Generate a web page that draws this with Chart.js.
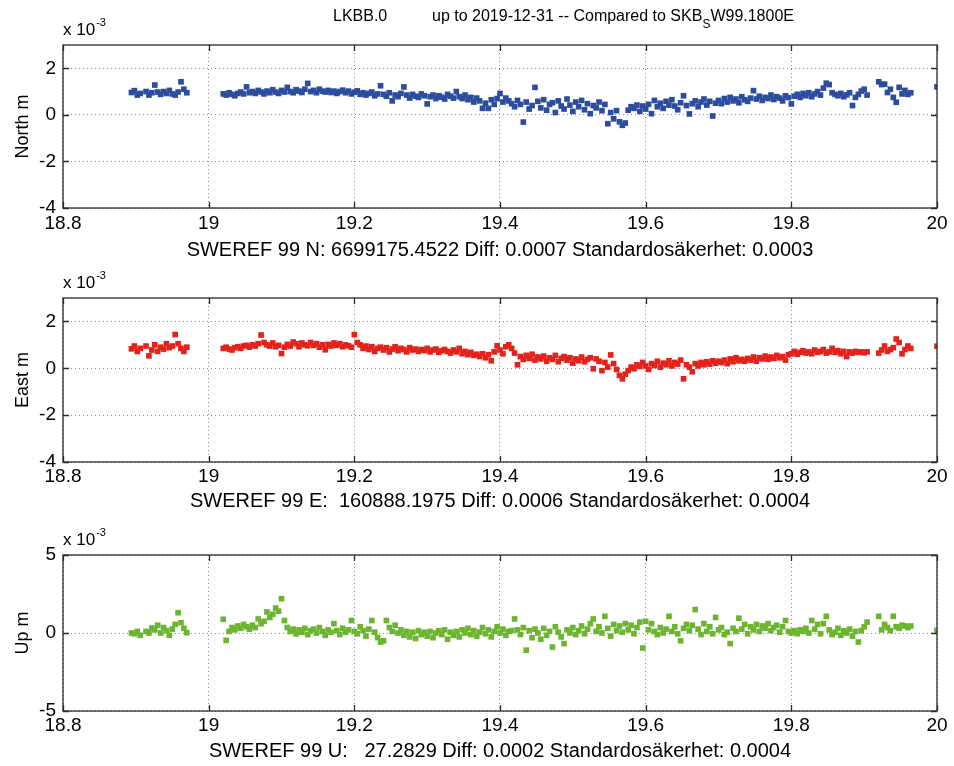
<!DOCTYPE html>
<html>
<head>
<meta charset="utf-8">
<script src="https://cdn.jsdelivr.net/npm/chart.js@4.4.1/dist/chart.umd.min.js"></script>
<style>
  html, body { margin: 0; padding: 0; background: #fff; }
  #wrap { position: relative; width: 954px; height: 766px; overflow: hidden; }
  canvas { position: absolute; left: 0; }
</style>
</head>
<body>
<div id="wrap">
  <canvas id="north" width="954" height="270" style="top:0px"></canvas>
  <canvas id="east" width="954" height="250" style="top:270px"></canvas>
  <canvas id="up" width="954" height="246" style="top:520px"></canvas>
</div>
<script>
// observation epochs (decimal years after 2000), shared by all three components
const epochs = [
  18.894,18.898,18.902,18.906,
  18.914,18.918,18.922,18.926,18.930,18.934,18.938,18.942,18.946,18.950,18.954,18.958,18.962,18.966,18.970,
  19.020,19.024,19.028,19.032,19.036,19.040,19.044,19.048,19.052,19.056,
  19.060,19.064,19.068,19.072,19.076,19.080,19.084,19.088,19.092,19.096,
  19.100,19.104,19.108,19.112,19.116,19.120,19.124,19.128,19.132,19.136,
  19.140,19.144,19.148,19.152,19.156,19.160,19.164,19.168,19.172,19.176,
  19.180,19.184,19.188,19.192,19.196,19.200,19.204,19.208,19.212,19.216,
  19.220,19.224,19.228,19.232,19.236,19.240,19.244,19.248,19.252,19.256,
  19.260,19.264,19.268,19.272,19.276,19.280,19.284,19.288,19.292,19.296,
  19.300,19.304,19.308,19.312,19.316,19.320,19.324,19.328,19.332,19.336,
  19.340,19.344,19.348,19.352,19.356,19.360,19.364,19.368,19.372,19.376,
  19.380,19.384,19.388,19.392,19.396,19.400,19.404,19.408,19.412,19.416,
  19.420,19.424,19.428,19.432,19.436,19.440,19.444,19.448,19.452,19.456,
  19.460,19.464,19.468,19.472,19.476,19.480,19.484,19.488,19.492,19.496,
  19.500,19.504,19.508,19.512,19.516,19.520,19.524,19.528,19.532,19.536,
  19.540,19.544,19.548,19.552,19.556,19.560,19.564,19.568,19.572,19.576,
  19.580,19.584,19.588,19.592,19.596,19.600,19.604,19.608,19.612,19.616,
  19.620,19.624,19.628,19.632,19.636,19.640,19.644,19.648,19.652,19.656,
  19.660,19.664,19.668,19.672,19.676,19.680,19.684,19.688,19.692,19.696,
  19.700,19.704,19.708,19.712,19.716,19.720,19.724,19.728,19.732,19.736,
  19.740,19.744,19.748,19.752,19.756,19.760,19.764,19.768,19.772,19.776,
  19.780,19.784,19.788,19.792,19.796,19.800,19.804,19.808,19.812,19.816,
  19.820,19.824,19.828,19.832,19.836,19.840,19.844,19.848,19.852,19.856,
  19.860,19.864,19.868,19.872,19.876,19.880,19.884,19.888,19.892,19.896,
  19.900,19.904,
  19.920,19.924,19.928,19.932,19.936,19.940,19.944,19.948,19.952,19.956,19.960,19.964,
  20.000
];

// deviations in units of 1e-3 m
const north = [
  0.96,1.04,0.85,0.92,
  1.00,0.85,0.95,1.28,0.98,0.88,1.00,0.92,1.05,0.90,0.85,0.98,1.42,1.10,0.95,
  0.90,0.85,0.95,0.88,0.82,0.92,0.98,0.90,1.20,0.95,
  1.00,0.92,1.05,0.98,0.90,1.02,0.95,1.08,0.98,0.92,
  1.05,0.98,1.18,1.00,0.95,1.08,1.02,0.96,1.10,1.35,
  1.00,1.05,0.95,1.10,1.02,0.98,1.05,0.96,1.02,0.92,
  1.00,1.06,0.95,1.02,0.90,0.97,1.03,0.88,0.95,0.85,
  0.92,0.98,0.82,0.90,1.25,0.88,0.80,0.95,0.60,0.85,
  0.78,0.92,1.20,0.85,0.72,0.88,0.80,0.75,0.90,0.82,
  0.47,0.78,0.85,0.70,0.82,0.76,0.68,0.88,0.80,0.72,
  1.00,0.78,0.70,0.85,0.65,0.75,0.55,0.72,0.60,0.28,
  0.50,0.28,0.65,0.45,0.70,0.92,0.55,0.72,0.60,0.48,
  0.35,0.62,0.45,-0.31,0.55,0.25,0.40,1.18,0.58,0.30,
  0.65,0.20,0.45,0.52,0.10,0.60,0.38,0.25,0.68,0.42,
  0.15,0.55,0.35,0.62,0.22,0.48,0.05,0.40,0.30,0.55,
  0.18,0.45,-0.38,0.10,-0.17,0.18,-0.30,-0.45,-0.35,0.20,
  0.35,0.28,0.42,0.15,0.38,0.25,0.45,0.05,0.62,0.35,
  0.50,0.28,0.58,0.42,0.65,0.38,0.22,0.52,0.82,0.40,
  0.04,0.48,0.60,0.35,0.55,0.68,0.42,0.58,-0.05,0.50,
  0.62,0.48,0.70,0.55,0.75,0.60,0.68,0.52,0.78,0.65,
  0.58,0.72,1.04,0.68,0.80,0.62,0.75,0.70,0.85,0.66,
  0.78,0.72,0.60,0.82,0.74,0.47,0.80,0.88,0.75,0.92,
  0.82,0.95,0.78,0.90,1.00,0.85,1.15,1.36,1.30,0.95,
  0.88,0.82,0.92,0.78,0.86,0.95,0.40,0.75,0.88,1.02,
  1.10,0.85,
  1.42,1.30,1.32,0.96,1.10,0.75,0.54,1.18,0.90,1.05,0.88,0.95,
  1.20
];

const east = [
  0.83,0.95,0.72,0.85,
  0.95,0.53,0.78,1.00,0.72,0.90,0.82,1.05,0.88,0.95,1.44,1.05,0.85,0.72,0.90,
  0.85,0.90,0.82,0.78,0.88,0.92,0.85,0.95,0.98,0.90,
  1.00,0.95,1.05,1.42,1.10,1.00,0.95,1.08,0.92,0.98,
  0.63,0.90,1.02,0.95,1.12,1.05,0.92,1.08,1.00,0.96,
  1.10,0.98,1.05,0.90,1.00,0.79,1.02,0.95,1.08,0.98,
  1.05,0.92,1.00,0.96,0.90,1.44,1.10,1.00,0.85,0.95,
  0.80,0.92,0.72,0.85,0.90,0.78,0.88,0.70,0.82,0.92,
  0.75,0.85,0.80,0.70,0.88,0.78,0.82,0.72,0.80,0.76,
  0.85,0.70,0.78,0.82,0.68,0.75,0.80,0.72,0.65,0.78,
  0.70,0.85,0.62,0.72,0.58,0.68,0.55,0.60,0.50,0.62,
  0.45,0.58,0.32,0.70,0.96,0.78,0.62,0.92,1.00,0.85,
  0.65,0.15,0.50,0.38,0.55,0.42,0.60,0.35,0.48,0.40,
  0.52,0.30,0.45,0.38,0.55,0.28,0.42,0.50,0.35,0.45,
  0.22,0.40,0.32,0.48,0.28,0.38,0.45,-0.02,0.40,0.30,
  -0.10,0.25,0.05,0.57,0.20,-0.05,-0.30,-0.45,-0.25,-0.10,
  0.05,-0.02,0.15,0.08,0.25,0.10,-0.05,0.20,0.12,0.30,
  0.05,0.22,0.15,0.32,0.10,0.25,0.18,0.35,-0.45,0.15,
  0.05,-0.15,0.20,0.10,0.25,0.15,0.28,0.18,0.32,0.22,
  0.30,0.25,0.35,0.20,0.40,0.28,0.45,0.32,0.38,0.30,
  0.42,0.35,0.48,0.30,0.45,0.40,0.52,0.38,0.48,0.42,
  0.55,0.45,0.50,0.35,0.58,0.62,0.72,0.60,0.68,0.75,
  0.65,0.70,0.62,0.78,0.68,0.72,0.80,0.65,0.70,0.85,
  0.68,0.75,0.62,0.72,0.50,0.70,0.65,0.72,0.68,0.70,
  0.66,0.70,
  0.65,0.78,0.95,0.72,0.80,0.88,1.25,1.10,0.62,0.80,0.95,0.85,
  0.94
];

const up = [
  0.00,-0.05,0.10,-0.15,
  0.10,0.00,0.32,0.20,0.50,0.00,0.35,0.15,-0.15,0.25,0.55,1.30,0.66,0.30,0.02,
  0.88,-0.47,0.10,0.35,0.20,0.45,0.30,0.55,0.40,0.25,
  0.50,0.35,0.90,0.60,0.75,1.35,1.00,1.20,1.60,1.40,
  2.20,0.80,0.35,0.10,0.25,-0.05,0.20,0.05,0.30,-0.10,
  0.15,0.25,0.00,0.35,0.10,-0.15,0.20,0.05,0.60,0.15,
  -0.10,0.30,0.05,0.20,0.80,0.10,-0.05,0.40,0.15,-0.20,
  0.25,0.80,0.05,-0.30,-0.58,-0.50,0.80,0.35,0.10,0.50,
  0.00,0.20,-0.15,0.10,-0.25,0.05,-0.35,0.15,-0.10,0.05,
  -0.20,0.10,-0.30,0.00,0.15,-0.10,0.20,-0.40,0.05,-0.15,
  0.10,-0.25,0.20,0.00,0.30,-0.10,0.15,-0.20,0.05,0.35,
  -0.05,0.20,-0.25,0.10,0.40,0.00,0.25,-0.15,0.10,0.15,
  0.90,0.20,-0.10,0.35,-1.10,0.15,-0.30,0.25,0.00,-0.40,
  0.30,-0.15,0.10,-0.90,0.40,0.05,-0.25,-0.68,0.20,0.00,
  0.35,-0.10,0.15,0.45,-0.05,0.25,0.60,0.90,0.10,0.40,
  0.00,1.07,0.30,-0.20,0.55,0.15,0.45,0.05,0.60,0.20,
  0.50,-0.05,0.35,0.70,-0.96,0.75,0.20,0.60,0.10,-0.10,
  0.35,0.00,0.25,1.07,0.10,0.40,-0.05,-0.50,0.30,0.55,
  0.15,0.50,1.50,0.25,-0.10,0.60,0.10,0.40,-0.05,1.00,
  0.20,0.35,-0.10,0.05,-0.68,0.30,0.10,0.95,0.25,0.55,
  -0.05,0.40,0.20,0.55,0.10,0.45,0.30,0.60,0.15,0.35,
  0.50,0.05,0.40,0.80,0.10,0.00,0.15,-0.05,0.20,0.10,
  0.30,0.00,0.80,0.25,0.55,-0.05,0.60,1.07,0.20,-0.10,
  0.05,0.30,-0.15,0.15,0.00,0.25,-0.20,0.10,-0.58,0.15,
  0.40,0.70,
  1.07,0.20,0.55,0.35,0.15,1.07,0.40,0.30,0.50,0.45,0.35,0.45,
  0.17
];

const xTicks = [18.8, 19, 19.2, 19.4, 19.6, 19.8, 20];
const neTicks = [-4, -2, 0, 2];
const upTicks = [-5, 0, 5];

const FONT = '"Liberation Sans", Arial, sans-serif';

// matlab style box, inward tick marks, exponent note and main title
const boxPlugin = {
  id: 'matlabBox',
  afterDraw(chart, args, opts) {
    const ctx = chart.ctx;
    const a = chart.chartArea;
    const sx = chart.scales.x, sy = chart.scales.y;
    ctx.save();
    ctx.strokeStyle = '#2a2a2a';
    ctx.lineWidth = 1.3;
    ctx.strokeRect(a.left, a.top, a.right - a.left, a.bottom - a.top);
    ctx.beginPath();
    sx.ticks.forEach(t => {
      const px = Math.round(sx.getPixelForValue(t.value)) + 0.5;
      ctx.moveTo(px, a.bottom); ctx.lineTo(px, a.bottom - 6);
      ctx.moveTo(px, a.top); ctx.lineTo(px, a.top + 6);
    });
    sy.ticks.forEach(t => {
      const py = Math.round(sy.getPixelForValue(t.value)) + 0.5;
      ctx.moveTo(a.left, py); ctx.lineTo(a.left + 6, py);
      ctx.moveTo(a.right, py); ctx.lineTo(a.right - 6, py);
    });
    ctx.stroke();

    ctx.fillStyle = '#000';
    ctx.textBaseline = 'alphabetic';
    ctx.textAlign = 'left';
    ctx.font = '17px ' + FONT;
    ctx.fillText('x 10', a.left, a.top - 10);
    const w = ctx.measureText('x 10').width;
    ctx.font = '11px ' + FONT;
    ctx.fillText('-3', a.left + w + 1, a.top - 19);

    if (opts.title) {
      ctx.font = '16px ' + FONT;
      ctx.fillText('LKBB.0', 333, 21);
      const s = 'up to 2019-12-31 -- Compared to SKB';
      ctx.fillText(s, 432, 21);
      let x = 432 + ctx.measureText(s).width;
      ctx.font = '12px ' + FONT;
      ctx.fillText('S', x, 28);
      x += ctx.measureText('S').width;
      ctx.font = '16px ' + FONT;
      ctx.fillText('W99.1800E', x, 21);
    }
    ctx.restore();
  }
};

function makePanel(el, values, color, yMin, yMax, yTicks, yTitle, caption, g) {
  if (values.length !== epochs.length) console.error(yTitle, values.length, epochs.length);
  const points = epochs.map((t, i) => ({x: t, y: values[i]}));
  return new Chart(el, {
    type: 'scatter',
    data: {
      datasets: [{
        data: points,
        backgroundColor: color,
        borderWidth: 0,
        pointStyle: 'rect',
        pointRadius: 4,
        pointHoverRadius: 4
      }]
    },
    options: {
      responsive: false,
      animation: false,
      events: [],
      layout: {padding: {top: g.top, right: 17, left: 0, bottom: 0}},
      plugins: {
        legend: {display: false},
        tooltip: {enabled: false},
        matlabBox: {title: g.title}
      },
      scales: {
        x: {
          type: 'linear',
          min: 18.8,
          max: 20,
          afterBuildTicks: s => { s.ticks = xTicks.map(v => ({value: v})); },
          afterFit: s => { s.height = g.xh; },
          ticks: {
            font: {family: FONT, size: 19},
            color: '#000',
            padding: g.tp,
            maxRotation: 0,
            autoSkip: false,
            callback: v => String(+v.toFixed(1))
          },
          grid: {color: 'rgba(0,0,0,0.45)', drawTicks: false, lineWidth: 1},
          border: {display: false, dash: [1, 3]},
          title: {
            display: true,
            text: caption,
            font: {family: FONT, size: 20},
            color: '#000',
            padding: {top: 0, bottom: g.cp}
          }
        },
        y: {
          min: yMin,
          max: yMax,
          afterBuildTicks: s => { s.ticks = yTicks.map(v => ({value: v})); },
          afterFit: s => { s.width = 63; },
          ticks: {font: {family: FONT, size: 19}, color: '#000', padding: 7},
          grid: {color: 'rgba(0,0,0,0.45)', drawTicks: false, lineWidth: 1},
          border: {display: false, dash: [1, 3]},
          title: {
            display: true,
            text: yTitle,
            font: {family: FONT, size: 18},
            color: '#000',
            padding: {top: 12, bottom: 0}
          }
        }
      }
    },
    plugins: [boxPlugin]
  });
}

makePanel(document.getElementById('north'), north, '#2c4c9f', -4, 3, neTicks, 'North m',
  'SWEREF 99 N: 6699175.4522 Diff: 0.0007 Standardosäkerhet: 0.0003',
  {top: 45, xh: 62, tp: 4, cp: 8, title: true});

makePanel(document.getElementById('east'), east, '#e3221c', -4, 3, neTicks, 'East m',
  'SWEREF 99 E:  160888.1975 Diff: 0.0006 Standardosäkerhet: 0.0004',
  {top: 28, xh: 58, tp: 3, cp: 7, title: false});

makePanel(document.getElementById('up'), up, '#6cb52f', -5, 5, upTicks, 'Up m',
  'SWEREF 99 U:   27.2829 Diff: 0.0002 Standardosäkerhet: 0.0004',
  {top: 35, xh: 55, tp: 3, cp: 3, title: false});
</script>
</body>
</html>
